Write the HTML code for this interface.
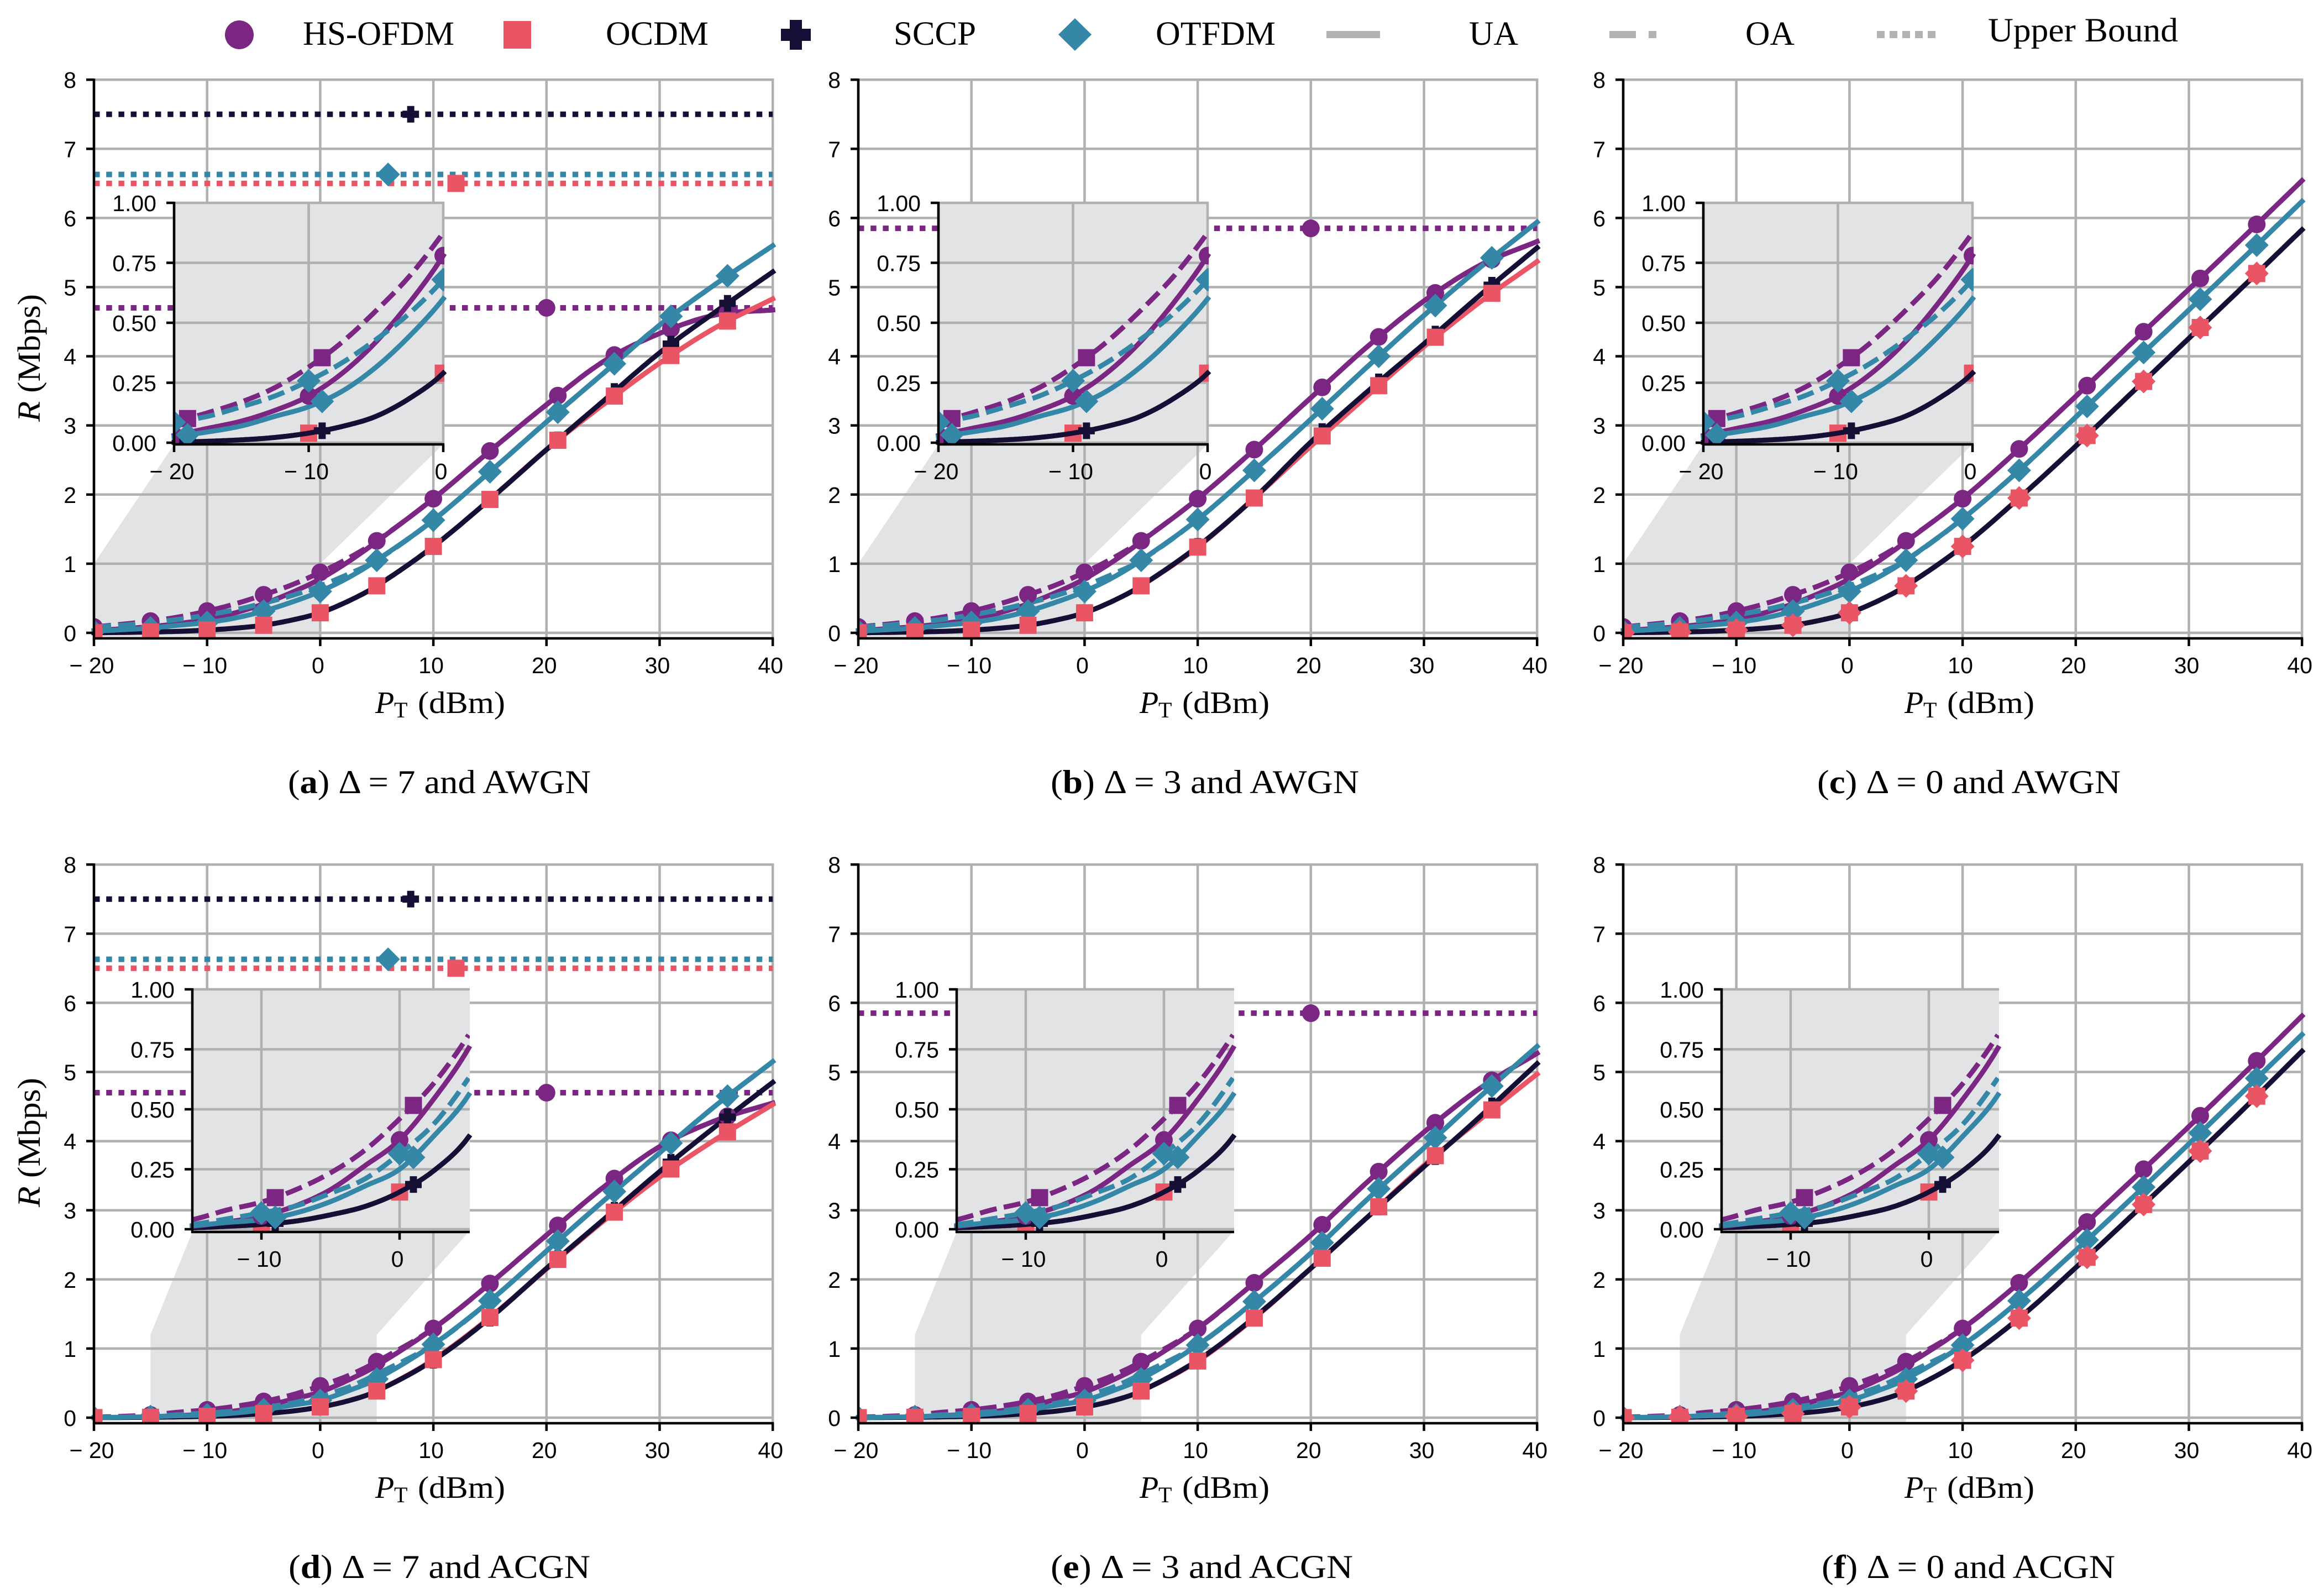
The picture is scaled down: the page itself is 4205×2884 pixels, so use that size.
<!DOCTYPE html>
<html lang="en">
<head>
<meta charset="utf-8">
<title>Achievable rate versus transmit power</title>
<style>
html,body{margin:0;padding:0;background:#fff;}
svg{display:block;}
.serif{font-family:"Liberation Serif","DejaVu Serif",serif;fill:#000;}
.sans{font-family:"Liberation Sans",Arial,sans-serif;fill:#000;font-size:41px;}
</style>
</head>
<body>
<svg id="figure" xmlns="http://www.w3.org/2000/svg" width="4205" height="2884" viewBox="0 0 4205 2884">
  <rect width="4205" height="2884" fill="#fff"/>
  <g id="panels"></g>
  <g>
    <circle cx="433" cy="63" r="26" fill="#7b2682"/>
    <text class="serif" x="548" y="81" font-size="61" textLength="274" lengthAdjust="spacingAndGlyphs">HS-OFDM</text>
    <rect x="911" y="38" width="50" height="50" fill="#ea5565"/>
    <text class="serif" x="1096" y="81" font-size="61" textLength="186" lengthAdjust="spacingAndGlyphs">OCDM</text>
    <path d="M1429 36h22v16h16v22h-16v16h-22v-16h-16v-22h16z" fill="#150f36"/>
    <text class="serif" x="1617" y="81" font-size="61" textLength="149" lengthAdjust="spacingAndGlyphs">SCCP</text>
    <path d="M1945 33l30 29.500l-30 29.500l-30 -29.500z" fill="#3587a8"/>
    <text class="serif" x="2091" y="81" font-size="61" textLength="217" lengthAdjust="spacingAndGlyphs">OTFDM</text>
    <line x1="2400" x2="2497" y1="62.500" y2="62.500" stroke="#b3b3b3" stroke-width="13"/>
    <text class="serif" x="2658" y="81" font-size="61" textLength="89" lengthAdjust="spacingAndGlyphs">UA</text>
    <line x1="2912" x2="2997" y1="62.500" y2="62.500" stroke="#b3b3b3" stroke-width="13" stroke-dasharray="48 23"/>
    <text class="serif" x="3158" y="81" font-size="61" textLength="89" lengthAdjust="spacingAndGlyphs">OA</text>
    <line x1="3396" x2="3502" y1="62.500" y2="62.500" stroke="#b3b3b3" stroke-width="13" stroke-dasharray="14 9"/>
    <text class="serif" x="3597" y="75" font-size="61" textLength="344" lengthAdjust="spacingAndGlyphs">Upper Bound</text>
  </g>
  <g>
    <text class="serif" transform="translate(72,763) rotate(-90)" font-size="58" textLength="231" lengthAdjust="spacingAndGlyphs"><tspan font-style="italic">R</tspan> (Mbps)</text>
    <text class="serif" transform="translate(72,2184) rotate(-90)" font-size="58" textLength="234" lengthAdjust="spacingAndGlyphs"><tspan font-style="italic">R</tspan> (Mbps)</text>
  </g>
  <g>
    <text class="serif" x="521" y="1435" font-size="60" textLength="548" lengthAdjust="spacingAndGlyphs">(<tspan font-weight="bold">a</tspan>) Δ = 7 and AWGN</text>
    <text class="serif" x="1901" y="1435" font-size="60" textLength="558" lengthAdjust="spacingAndGlyphs">(<tspan font-weight="bold">b</tspan>) Δ = 3 and AWGN</text>
    <text class="serif" x="3288" y="1435" font-size="60" textLength="549" lengthAdjust="spacingAndGlyphs">(<tspan font-weight="bold">c</tspan>) Δ = 0 and AWGN</text>
    <text class="serif" x="522" y="2855" font-size="60" textLength="546" lengthAdjust="spacingAndGlyphs">(<tspan font-weight="bold">d</tspan>) Δ = 7 and ACGN</text>
    <text class="serif" x="1901" y="2855" font-size="60" textLength="547" lengthAdjust="spacingAndGlyphs">(<tspan font-weight="bold">e</tspan>) Δ = 3 and ACGN</text>
    <text class="serif" x="3296" y="2855" font-size="60" textLength="531" lengthAdjust="spacingAndGlyphs">(<tspan font-weight="bold">f</tspan>) Δ = 0 and ACGN</text>
  </g>
</svg>
<script>
// Shared transmit-power grid (dBm)
const ptLow = [-20, -17.5, -15, -12.5, -10, -7.5, -5, -2.5, 0, 2.5, 5];
const ptHigh = [10, 15, 20, 25, 30, 35, 40];

// Low-power rates (Mbps), AWGN
const awgnHsUA = [0.03, 0.06, 0.09, 0.135, 0.195, 0.29, 0.42, 0.585, 0.78, 1.03, 1.32];
const awgnHsOA = [0.085, 0.125, 0.17, 0.23, 0.315, 0.42, 0.55, 0.695, 0.875, 1.08, 1.33];
const awgnTealUA = [0.025, 0.045, 0.07, 0.11, 0.15, 0.215, 0.315, 0.445, 0.6, 0.8, 1.05];
const awgnTealOA = [0.085, 0.11, 0.15, 0.195, 0.258, 0.334, 0.43, 0.54, 0.68, 0.85, 1.05];
const awgnNavy = [0.002, 0.006, 0.012, 0.022, 0.04, 0.068, 0.11, 0.185, 0.29, 0.46, 0.68];

// Low-power rates (Mbps), ACGN
const acgnHsUA = [0.002, 0.005, 0.012, 0.03, 0.055, 0.098, 0.165, 0.265, 0.372, 0.545, 0.755];
const acgnHsOA = [0.008, 0.02, 0.04, 0.08, 0.113, 0.165, 0.235, 0.33, 0.46, 0.61, 0.81];
const acgnTealUA = [0.003, 0.007, 0.015, 0.028, 0.04, 0.068, 0.115, 0.18, 0.25, 0.39, 0.56];
const acgnTealOA = [0.004, 0.01, 0.02, 0.043, 0.068, 0.097, 0.15, 0.21, 0.315, 0.44, 0.63];
const acgnNavy = [0.001, 0.003, 0.006, 0.012, 0.02, 0.034, 0.06, 0.095, 0.155, 0.245, 0.385];

// High-power rates (Mbps), per panel
const aHs = [1.94, 2.63, 3.3, 3.92, 4.33, 4.6, 4.67];
const aTeal = [1.63, 2.33, 3.05, 3.75, 4.45, 5.05, 5.6];
const aNavy = [1.25, 1.93, 2.65, 3.35, 4.05, 4.65, 5.22];
const aRed = [1.25, 1.93, 2.65, 3.3, 3.9, 4.42, 4.83];

const bHs = [1.94, 2.65, 3.4, 4.14, 4.8, 5.32, 5.66];
const bTeal = [1.64, 2.35, 3.09, 3.85, 4.59, 5.29, 5.94];
const bNavy = [1.25, 1.95, 2.76, 3.49, 4.18, 4.89, 5.57];
const bRed = [1.24, 1.95, 2.7, 3.43, 4.14, 4.79, 5.37];

const cHs = [1.94, 2.66, 3.42, 4.2, 4.97, 5.75, 6.54];
const cTeal = [1.65, 2.35, 3.12, 3.9, 4.67, 5.45, 6.24];
const cNavy = [1.25, 1.95, 2.7, 3.48, 4.26, 5.04, 5.83];
const cRed = [1.25, 1.95, 2.7, 3.48, 4.26, 5.04, 5.83];

const dHs = [1.29, 1.94, 2.64, 3.33, 3.92, 4.3, 4.55];
const dTeal = [1.06, 1.69, 2.41, 3.13, 3.83, 4.52, 5.15];
const dNavy = [0.83, 1.44, 2.16, 2.86, 3.56, 4.22, 4.85];
const dRed = [0.84, 1.45, 2.15, 2.84, 3.48, 4.03, 4.53];

const eHs = [1.29, 1.95, 2.64, 3.41, 4.13, 4.77, 5.27];
const eTeal = [1.05, 1.68, 2.38, 3.16, 3.9, 4.65, 5.37];
const eNavy = [0.83, 1.45, 2.16, 2.9, 3.63, 4.36, 5.12];
const eRed = [0.82, 1.44, 2.16, 2.9, 3.65, 4.32, 4.97];

const fHs = [1.29, 1.95, 2.68, 3.44, 4.21, 5.0, 5.81];
const fTeal = [1.05, 1.69, 2.42, 3.18, 3.96, 4.75, 5.54];
const fNavy = [0.83, 1.44, 2.17, 2.93, 3.7, 4.49, 5.3];
const fRed = [0.83, 1.44, 2.17, 2.93, 3.7, 4.49, 5.3];

// Upper bounds (Mbps); null means off the chart
const boundsDelta7 = { hs: 4.7, red: 6.5, navy: 7.5, teal: 6.63 };
const boundsDelta3 = { hs: 5.85, red: null, navy: null, teal: null };
const boundsDelta0 = { hs: null, red: null, navy: null, teal: null };

// Where markers sit along the x axis (dBm)
const mainMarkerPt = [-20, -15, -10, -5, 0, 5, 10, 15, 21, 26, 31, 36];
const insetMarkerPtA = [-20, -10, 0];
const insetMarkerPtB = [-19, -9, 1];
const boundMarkerPt = { hs: 20, red: 12, navy: 8, teal: 6 };

// Tick labels
const mainXTicks = [-20, -10, 0, 10, 20, 30, 40];
const mainYTicks = [0, 1, 2, 3, 4, 5, 6, 7, 8];
const insetYTicks = [0, 0.25, 0.5, 0.75, 1];
const insetXTicksAwgn = [-20, -10, 0];
const insetXTicksAcgn = [-10, 0];

const COLORS = { hs: '#7b2682', red: '#ea5565', navy: '#150f36', teal: '#3587a8', grid: '#b0b0b0', inset: '#e2e3e5' };
const SVGNS = 'http://www.w3.org/2000/svg';
const root = document.getElementById('panels');

function el(tag, attrs, parent) {
  const node = document.createElementNS(SVGNS, tag);
  for (const k in attrs) node.setAttribute(k, attrs[k]);
  parent.appendChild(node);
  return node;
}

function rateAt(xs, ys, x) {
  const n = xs.length;
  if (x <= xs[0]) return ys[0];
  if (x >= xs[n - 1]) return ys[n - 1];
  let i = 0;
  while (x > xs[i + 1]) i++;
  const slope = function (j) {
    if (j === 0) return (ys[1] - ys[0]) / (xs[1] - xs[0]);
    if (j === n - 1) return (ys[n - 1] - ys[n - 2]) / (xs[n - 1] - xs[n - 2]);
    return (ys[j + 1] - ys[j - 1]) / (xs[j + 1] - xs[j - 1]);
  };
  const h = xs[i + 1] - xs[i];
  const t = (x - xs[i]) / h;
  const t2 = t * t, t3 = t2 * t;
  return (2 * t3 - 3 * t2 + 1) * ys[i] + (t3 - 2 * t2 + t) * h * slope(i) +
    (-2 * t3 + 3 * t2) * ys[i + 1] + (t3 - t2) * h * slope(i + 1);
}

function makePanel(id, col, row, low, high, bounds, overlayDiamond) {
  const pts = ptLow.concat(ptHigh);
  return {
    id: id, col: col, row: row, bounds: bounds, overlayDiamond: overlayDiamond, pts: pts,
    hsUA: low.hsUA.concat(high.hs),
    hsOA: low.hsOA.concat(high.hs),
    tealUA: low.tealUA.concat(high.teal),
    tealOA: low.tealOA.concat(high.teal),
    navy: low.navy.concat(high.navy),
    red: low.navy.concat(high.red)
  };
}

const lowAwgn = { hsUA: awgnHsUA, hsOA: awgnHsOA, tealUA: awgnTealUA, tealOA: awgnTealOA, navy: awgnNavy };
const lowAcgn = { hsUA: acgnHsUA, hsOA: acgnHsOA, tealUA: acgnTealUA, tealOA: acgnTealOA, navy: acgnNavy };

const panelList = [
  makePanel('a', 0, 0, lowAwgn, { hs: aHs, teal: aTeal, navy: aNavy, red: aRed }, boundsDelta7, false),
  makePanel('b', 1, 0, lowAwgn, { hs: bHs, teal: bTeal, navy: bNavy, red: bRed }, boundsDelta3, false),
  makePanel('c', 2, 0, lowAwgn, { hs: cHs, teal: cTeal, navy: cNavy, red: cRed }, boundsDelta0, true),
  makePanel('d', 0, 1, lowAcgn, { hs: dHs, teal: dTeal, navy: dNavy, red: dRed }, boundsDelta7, false),
  makePanel('e', 1, 1, lowAcgn, { hs: eHs, teal: eTeal, navy: eNavy, red: eRed }, boundsDelta3, false),
  makePanel('f', 2, 1, lowAcgn, { hs: fHs, teal: fTeal, navy: fNavy, red: fRed }, boundsDelta0, true)
];

const colOffset = [0, 1383, 2767];

function scales(ax) {
  ax.sx = function (v) { return ax.left + (v - ax.xmin) * ax.kx; };
  ax.sy = function (v) { return ax.zero - v * ax.ky; };
  ax.right = ax.sx(ax.xmax);
  ax.top = ax.sy(ax.ymax);
  return ax;
}

function fmtX(v) { return v < 0 ? '\u2212 ' + Math.abs(v) : String(v); }

function drawGridAndLabels(g, ax) {
  ax.xTicks.forEach(function (v) {
    const grid = el('line', { x1: ax.sx(v), x2: ax.sx(v), y1: ax.top - 2, y2: ax.bottom, stroke: COLORS.grid, 'stroke-width': 4.5 }, g);
    
    
  });
  ax.yTicks.forEach(function (v) {
    const grid = el('line', { x1: ax.left, x2: ax.gridRight, y1: ax.sy(v), y2: ax.sy(v), stroke: COLORS.grid, 'stroke-width': 4.5 }, g);
    
    
  });
}

function drawAxisFrame(g, ax, yFmt) {
  const leftSpine = el('line', { x1: ax.left, x2: ax.left, y1: ax.top - 2, y2: ax.bottom + 2, stroke: '#000', 'stroke-width': 4.5 }, g);
  
  
  const bottomSpine = el('line', { x1: ax.left - 2, x2: ax.gridRight, y1: ax.bottom, y2: ax.bottom, stroke: '#000', 'stroke-width': 4.5 }, g);
  
  
  ax.xTicks.forEach(function (v) {
    const tick = el('line', { x1: ax.sx(v), x2: ax.sx(v), y1: ax.bottom, y2: ax.bottom + 14, stroke: '#000', 'stroke-width': 4.5 }, g);
    
    
    const label = el('text', { x: ax.sx(v) - 4, y: ax.bottom + 63, 'text-anchor': 'middle', class: 'sans' }, g);
    
    
    label.textContent = fmtX(v);
  });
  ax.yTicks.forEach(function (v) {
    const tick = el('line', { x1: ax.left - 14, x2: ax.left, y1: ax.sy(v), y2: ax.sy(v), stroke: '#000', 'stroke-width': 4.5 }, g);
    
    
    const label = el('text', { x: ax.left - 32, y: ax.sy(v) + 15, 'text-anchor': 'end', class: 'sans' }, g);
    
    
    label.textContent = yFmt(v);
  });
}

function curvePath(ax, xs, ys) {
  let d = '';
  const step = (ax.xmax - ax.xmin) / 240;
  for (let i = 0; i <= 240; i++) {
    const x = ax.xmin + i * step;
    d += (i ? 'L' : 'M') + ax.sx(x).toFixed(1) + ' ' + ax.sy(rateAt(xs, ys, x)).toFixed(1);
  }
  return d;
}

function drawCurve(g, ax, xs, ys, color, dashed, name, clipId) {
  const attrs = { d: curvePath(ax, xs, ys), fill: 'none', stroke: color, 'stroke-width': 9, 'stroke-linejoin': 'round' };
  if (dashed) {
    attrs['stroke-dasharray'] = '31 13';
    attrs['clip-path'] = 'url(#' + clipId + ')';
  } else {
    attrs['stroke-linecap'] = 'square';
  }
  const path = el('path', attrs, g);
  
  
}

function drawMarker(g, shape, color, cx, cy, name) {
  let node;
  if (shape === 'circle') {
    node = el('circle', { cx: cx, cy: cy, r: 16, fill: color }, g);
  } else if (shape === 'square') {
    node = el('rect', { x: cx - 15.5, y: cy - 15.5, width: 31, height: 31, fill: color }, g);
  } else if (shape === 'diamond') {
    node = el('path', { d: 'M' + cx + ' ' + (cy - 21.5) + 'L' + (cx + 21.5) + ' ' + cy + 'L' + cx + ' ' + (cy + 21.5) + 'L' + (cx - 21.5) + ' ' + cy + 'Z', fill: color }, g);
  } else {
    node = el('path', { d: 'M' + (cx - 6.5) + ' ' + (cy - 15) + 'h13v8.500h8.500v13h-8.500v8.500h-13v-8.500h-8.500v-13h8.500z', fill: color }, g);
  }
  
  
}

function addClip(id, ax) {
  const clip = el('clipPath', { id: id }, root);
  el('rect', { x: ax.left, y: ax.top - 2, width: ax.right - ax.left + 2, height: ax.bottom - ax.top + 2 }, clip);
}

panelList.forEach(function (p) {
  const off = colOffset[p.col];
  const row2 = p.row === 1;
  const group = el('g', {}, root);
  
  

  const main = scales({
    left: 170 + off, kx: 20.47, zero: row2 ? 2565 : 1145, ky: 125.1, bottom: row2 ? 2575 : 1155,
    xmin: -20, xmax: 40, ymax: 8, xTicks: mainXTicks, yTicks: mainYTicks
  });
  main.gridRight = main.right + 2;

  const inset = scales(row2 ? {
    left: 348 + off, kx: 25, zero: 2224, ky: 434, bottom: 2229,
    xmin: -15, xmax: 5, ymax: 1, xTicks: insetXTicksAcgn, yTicks: insetYTicks
  } : {
    left: 315 + off, kx: 24.35, zero: 801, ky: 434, bottom: 804,
    xmin: -20, xmax: 0, ymax: 1, xTicks: insetXTicksAwgn, yTicks: insetYTicks
  });
  inset.gridRight = inset.right + 2;

  const mainClip = 'clip-main-' + p.id;
  const insetClip = 'clip-inset-' + p.id;
  addClip(mainClip, main);
  addClip(insetClip, inset);

  // Zoom connector polygon
  const zoomTop = row2 ? 1.2 : 1;
  const zx0 = main.sx(inset.xmin), zx1 = main.sx(inset.xmax), zy = main.sy(zoomTop);
  const connector = el('polygon', {
    points: [[zx0, main.bottom], [zx0, zy], [inset.left, inset.bottom], [inset.right, inset.bottom], [zx1, zy], [zx1, main.bottom]].map(function (q) { return q.join(','); }).join(' '),
    fill: COLORS.inset
  }, group);
  
  

  drawGridAndLabels(group, main);

  // Upper bound lines
  ['hs', 'red', 'teal', 'navy'].forEach(function (key) {
    const v = p.bounds[key];
    if (v === null) return;
    const line = el('line', { x1: main.left, x2: main.right, y1: main.sy(v), y2: main.sy(v), stroke: COLORS[key], 'stroke-width': 10, 'stroke-dasharray': '10.5 11.7' }, group);
    
    
  });

  // Main curves
  drawCurve(group, main, p.pts, p.hsOA, COLORS.hs, true, 'curve-hs-ofdm-oa', mainClip);
  drawCurve(group, main, p.pts, p.hsUA, COLORS.hs, false, 'curve-hs-ofdm-ua', mainClip);
  drawCurve(group, main, p.pts, p.red, COLORS.red, false, 'curve-ocdm', mainClip);
  drawCurve(group, main, p.pts, p.navy, COLORS.navy, false, 'curve-sccp', mainClip);
  drawCurve(group, main, p.pts, p.tealOA, COLORS.teal, true, 'curve-otfdm-oa', mainClip);
  drawCurve(group, main, p.pts, p.tealUA, COLORS.teal, false, 'curve-otfdm-ua', mainClip);

  // Main markers
  const mainMarks = el('g', { 'clip-path': 'url(#' + mainClip + ')' }, group);
  
  
  mainMarkerPt.forEach(function (x) {
    drawMarker(mainMarks, 'circle', COLORS.hs, main.sx(x), main.sy(rateAt(p.pts, p.hsOA, x)), 'marker-hs-ofdm');
  });
  mainMarkerPt.forEach(function (x) {
    drawMarker(mainMarks, 'plus', COLORS.navy, main.sx(x), main.sy(rateAt(p.pts, p.navy, x)), 'marker-sccp');
  });
  mainMarkerPt.forEach(function (x) {
    drawMarker(mainMarks, 'diamond', COLORS.teal, main.sx(x), main.sy(rateAt(p.pts, p.tealUA, x)), 'marker-otfdm');
  });
  mainMarkerPt.forEach(function (x) {
    drawMarker(mainMarks, 'square', COLORS.red, main.sx(x), main.sy(rateAt(p.pts, p.red, x)), 'marker-ocdm');
    if (p.overlayDiamond) {
      drawMarker(mainMarks, 'diamond', COLORS.red, main.sx(x), main.sy(rateAt(p.pts, p.red, x)), 'marker-ocdm-overlap');
    }
  });

  // Upper bound markers
  if (p.bounds.hs !== null) drawMarker(group, 'circle', COLORS.hs, main.sx(boundMarkerPt.hs), main.sy(p.bounds.hs), 'upper-bound-marker-hs-ofdm');
  if (p.bounds.red !== null) drawMarker(group, 'square', COLORS.red, main.sx(boundMarkerPt.red), main.sy(p.bounds.red), 'upper-bound-marker-ocdm');
  if (p.bounds.navy !== null) drawMarker(group, 'plus', COLORS.navy, main.sx(boundMarkerPt.navy), main.sy(p.bounds.navy), 'upper-bound-marker-sccp');
  if (p.bounds.teal !== null) drawMarker(group, 'diamond', COLORS.teal, main.sx(boundMarkerPt.teal), main.sy(p.bounds.teal), 'upper-bound-marker-otfdm');

  drawAxisFrame(group, main, function (v) { return String(v); });

  // Axis title
  const title = el('text', { class: 'serif', 'font-size': 56 }, group);
  
  
  const titleY = main.bottom + 135;
  const tP = el('tspan', { x: main.left + 509, y: titleY, 'font-style': 'italic' }, title);
  tP.textContent = 'P';
  const tSub = el('tspan', { x: main.left + 543, y: titleY + 8, 'font-size': 40 }, title);
  tSub.textContent = 'T';
  const tRest = el('tspan', { x: main.left + 586, y: titleY, textLength: 158, lengthAdjust: 'spacingAndGlyphs' }, title);
  tRest.textContent = '(dBm)';

  // Inset
  const insetGroup = el('g', {}, group);
  
  
  const bg = el('rect', { x: inset.left, y: inset.top - 2, width: inset.right - inset.left + 2, height: inset.bottom - inset.top + 2, fill: COLORS.inset }, insetGroup);
  
  
  drawGridAndLabels(insetGroup, inset);

  const insetMarksBack = el('g', { 'clip-path': 'url(#' + insetClip + ')' }, insetGroup);
  
  
  insetMarkerPtA.forEach(function (x) {
    drawMarker(insetMarksBack, 'square', COLORS.red, inset.sx(x), inset.sy(rateAt(p.pts, p.red, x)), 'inset-marker-ocdm');
  });

  drawCurve(insetGroup, inset, p.pts, p.red, COLORS.red, false, 'inset-curve-ocdm', insetClip);
  drawCurve(insetGroup, inset, p.pts, p.navy, COLORS.navy, false, 'inset-curve-sccp', insetClip);
  drawCurve(insetGroup, inset, p.pts, p.hsOA, COLORS.hs, true, 'inset-curve-hs-ofdm-oa', insetClip);
  drawCurve(insetGroup, inset, p.pts, p.hsUA, COLORS.hs, false, 'inset-curve-hs-ofdm-ua', insetClip);
  drawCurve(insetGroup, inset, p.pts, p.tealOA, COLORS.teal, true, 'inset-curve-otfdm-oa', insetClip);
  drawCurve(insetGroup, inset, p.pts, p.tealUA, COLORS.teal, false, 'inset-curve-otfdm-ua', insetClip);

  const insetMarks = el('g', { 'clip-path': 'url(#' + insetClip + ')' }, insetGroup);
  
  
  insetMarkerPtA.forEach(function (x) {
    drawMarker(insetMarks, 'circle', COLORS.hs, inset.sx(x), inset.sy(rateAt(p.pts, p.hsUA, x)), 'inset-marker-hs-ofdm-ua');
  });
  insetMarkerPtB.forEach(function (x) {
    drawMarker(insetMarks, 'square', COLORS.hs, inset.sx(x), inset.sy(rateAt(p.pts, p.hsOA, x)), 'inset-marker-hs-ofdm-oa');
  });
  insetMarkerPtB.forEach(function (x) {
    drawMarker(insetMarks, 'plus', COLORS.navy, inset.sx(x), inset.sy(rateAt(p.pts, p.navy, x)), 'inset-marker-sccp');
  });
  insetMarkerPtA.forEach(function (x) {
    drawMarker(insetMarks, 'diamond', COLORS.teal, inset.sx(x), inset.sy(rateAt(p.pts, p.tealOA, x)), 'inset-marker-otfdm-oa');
  });
  insetMarkerPtB.forEach(function (x) {
    drawMarker(insetMarks, 'diamond', COLORS.teal, inset.sx(x), inset.sy(rateAt(p.pts, p.tealUA, x)), 'inset-marker-otfdm-ua');
  });

  drawAxisFrame(insetGroup, inset, function (v) { return v.toFixed(2); });
});
</script>
</body>
</html>
